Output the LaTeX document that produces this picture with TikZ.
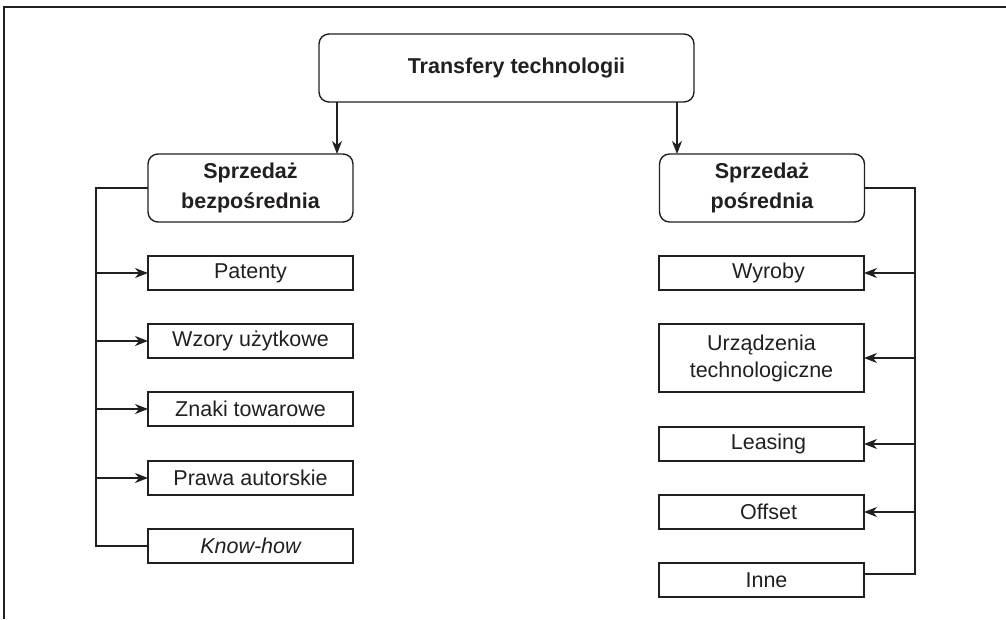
\documentclass[tikz,border=0pt]{standalone}
\usepackage{fontspec}
\setmainfont{Liberation Sans}
\usetikzlibrary{arrows.meta}
\definecolor{ink}{HTML}{231F20}
\begin{document}
\begin{tikzpicture}[x=1pt,y=-1pt,
  line width=1.4pt, draw=ink, text=ink,
  every node/.style={inner sep=0pt, outer sep=0pt},
  headbox/.style={draw=ink, rounded corners=10pt, minimum width=205pt, minimum height=68pt,
    align=center, font=\fontsize{21.5}{30}\selectfont\bfseries},
  itembox/.style={draw=ink, minimum width=205pt, minimum height=34pt,
    align=center, font=\fontsize{21.5}{27}\selectfont},
  arr/.style={draw=ink, -{Stealth[length=13pt,width=10pt,inset=4pt]}}]
\useasboundingbox (0,0) rectangle (1006,619);

% frame
\draw[line width=1.2pt] (4,619) -- (4,7) -- (1006,7);

% root and the two branches
\node[headbox, minimum width=375pt] (root) at (506.5,68) {\hspace*{20pt}Transfery technologii};
\node[headbox] (direct) at (250.5,188) {Sprzedaż\\bezpośrednia};
\node[headbox] (indirect) at (762,188) {Sprzedaż\\pośrednia};

\draw[arr] ([xshift=18pt]root.south west) coordinate (r1) -- (r1 |- direct.north);
\draw[arr] ([xshift=-17pt]root.south east) coordinate (r2) -- (r2 |- indirect.north);

% direct sale items
\node[itembox] (pat) at (250.5,273) {Patenty};
\node[itembox] (wzo) at (250.5,341) {Wzory użytkowe};
\node[itembox] (zna) at (250.5,409) {Znaki towarowe};
\node[itembox] (pra) at (250.5,478) {Prawa autorskie};
\node[itembox] (know) at (250.5,546) {\itshape Know-how};

\coordinate (lbus) at (96,0);
\draw (direct.west) -- (direct.west -| lbus) |- (know.west);
\foreach \n in {pat,wzo,zna,pra}
  \draw[arr] (\n.west -| lbus) -- (\n.west);

% indirect sale items
\node[itembox] (wyr) at (761.5,273) {\hspace*{14pt}Wyroby};
\node[itembox, minimum height=68pt] (urz) at (761.5,358) {Urządzenia\\technologiczne};
\node[itembox] (lea) at (761.5,444) {\hspace*{14pt}Leasing};
\node[itembox] (off) at (761.5,512) {\hspace*{14pt}Offset};
\node[itembox] (inn) at (761.5,580) {\hspace*{10pt}Inne};

\coordinate (rbus) at (915,0);
\draw (indirect.east) -- (indirect.east -| rbus) |- ([yshift=6pt]inn.east);
\foreach \n in {wyr,urz,lea,off}
  \draw[arr] (\n.east -| rbus) -- (\n.east);
\end{tikzpicture}
\end{document}
